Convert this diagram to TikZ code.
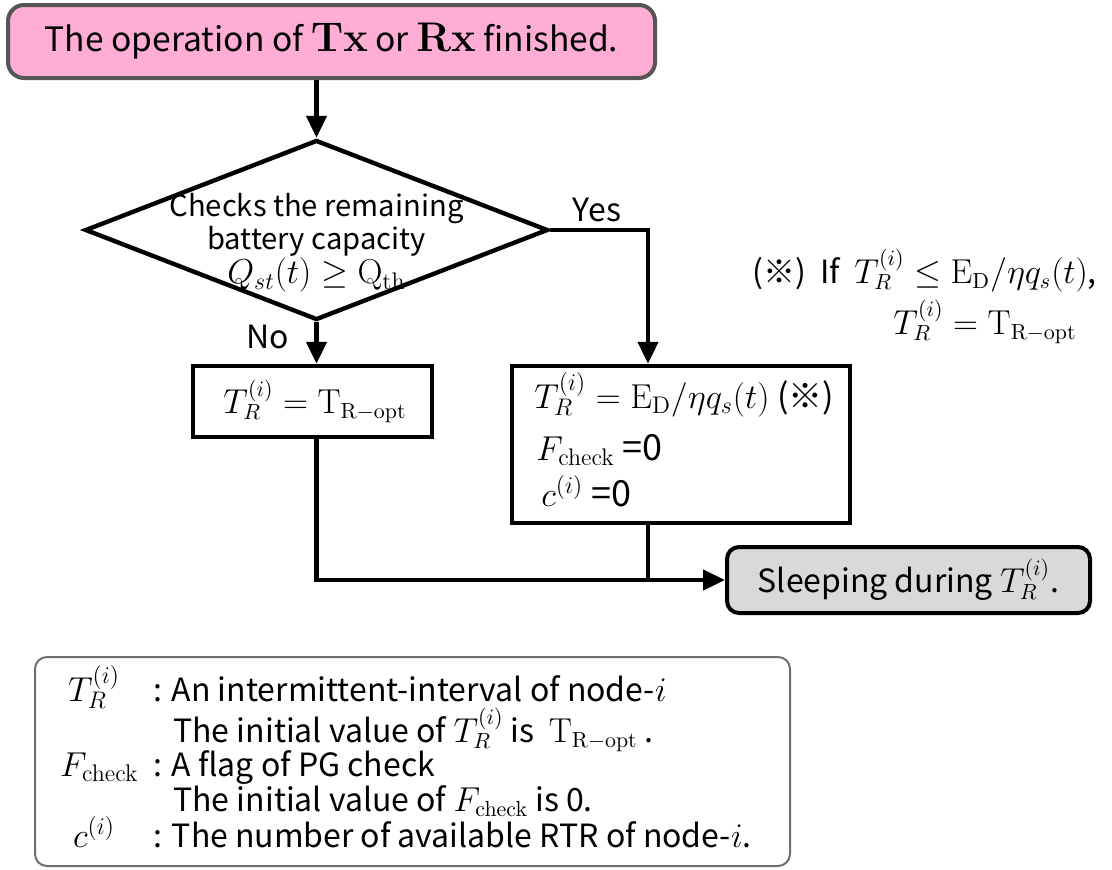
\documentclass[tikz,border=0pt]{standalone}
\usepackage[no-math]{fontspec}
\setmainfont{Noto Sans CJK JP}
\usetikzlibrary{arrows.meta,shapes.geometric}
\definecolor{startpink}{RGB}{255,173,213}
\definecolor{startedge}{RGB}{85,85,85}
\definecolor{sleepgray}{RGB}{217,217,217}
\definecolor{legendedge}{RGB}{110,110,110}
\newcommand{\diasize}{\fontsize{14.6}{15}\selectfont}
\newcommand{\headmath}{\fontsize{22.5}{22}\selectfont}
\newcommand{\nodepth}[1]{\raisebox{0pt}[\height][0pt]{#1}}
\tikzset{
  txt/.style={font=\fontsize{16}{19}\selectfont, inner sep=0pt},
  bigtxt/.style={font=\fontsize{18}{21}\selectfont, inner sep=0pt},
  procbox/.style={draw=black, line width=2.2pt, inner sep=0pt},
  startbox/.style={draw=startedge, fill=startpink, line width=2pt, rounded corners=8pt,
    font=\fontsize{16.8}{19}\selectfont},
  sleepbox/.style={draw=black, fill=sleepgray, line width=2pt, rounded corners=6pt,
    font=\fontsize{16}{19}\selectfont},
  flowline/.style={line width=2.2pt},
  flowarrow/.style={line width=2.2pt, -{Triangle[length=11pt,width=10pt]}},
}
\begin{document}
\begin{tikzpicture}[x=0.5pt,y=-0.5pt]
\useasboundingbox (0,0) rectangle (1112,869);

% start of the procedure
\node[startbox, minimum width=323.5pt, minimum height=36.5pt] (start) at (331.5,41.5)
  {The operation of {\headmath$\mathbf{Tx}$} or {\headmath$\mathbf{Rx}$} finished.};

% battery check
\node[diamond, draw=black, line width=2.2pt, minimum width=231.5pt, minimum height=90pt,
  inner sep=0pt] (dia) at (316.5,230) {};
\node[txt, align=center, font=\diasize] (diatext) at (316.5,243)
  {Checks the remaining\\battery capacity\\{\fontsize{16.7}{15}\selectfont$Q_{st}(t)\geq \mathrm{Q_{th}}$}};

% the two branches
\node[procbox, minimum width=119.5pt, minimum height=35.5pt] (boxA) at (312.5,401.5) {};
\node[txt] (boxAtext) at (315,401.5) {$T_R^{(i)}=\mathrm{T_{R-opt}}$};

\node[procbox, minimum width=169pt, minimum height=78.5pt] (boxB) at (681,444.5) {};
\node[txt, font=\fontsize{17}{19}\selectfont, anchor=base west] (bl1) at (534,408)
  {$T_R^{(i)}=\mathrm{E_D}/\eta q_s(t)$ (※)};
\node[bigtxt, anchor=base west] (bl2) at (536,460) {\nodepth{$F_{\mathrm{check}}$}\ =0};
\node[bigtxt, anchor=base west] (bl3) at (541,506) {$c^{(i)}$\ =0};

% sleeping state
\node[sleepbox, minimum width=181.5pt, minimum height=33pt] (sleep) at (908.5,580)
  {Sleeping during $T_R^{(i)}$.};

% note on the Yes branch
\node[txt, anchor=base west] (note1) at (752,283)
  {(※)\ \ If\ \ $T_R^{(i)}\leq \mathrm{E_D}/\eta q_s(t)$,};
\node[txt, anchor=base] (note2) at (985,334)
  {$T_R^{(i)}=\mathrm{T_{R-opt}}$};

% connectors
\draw[flowarrow] (start.south -| dia.north) -- (dia.north);
\coordinate (yesturn) at (648,230);
\draw[flowarrow] (dia.east) -- (yesturn) -- (yesturn |- boxB.north);
\node[txt, anchor=base] (yes) at (597,221) {Yes};
\draw[flowarrow] (dia.south) -- (dia.south |- boxA.north);
\node[txt, anchor=base] (no) at (268,348) {No};
\draw[flowarrow] (dia.south |- boxA.south) |- (sleep.west);
\draw[flowline] (yesturn |- boxB.south) -- (yesturn |- sleep.west);

% legend
\node[draw=legendedge, line width=1pt, rounded corners=6pt, minimum width=377.5pt,
  minimum height=104.5pt] (legend) at (412.5,761.5) {};
\node[bigtxt, anchor=base] (s1) at (94,701) {$T_R^{(i)}$};
\node[txt, anchor=base west] (d1) at (153,701) {: An intermittent-interval of node-$i$};
\node[txt, anchor=base west] (d1b) at (173,742)
  {The initial value of\ \nodepth{$T_R^{(i)}$} is\ \ $\mathrm{T_{R-opt}}$ .};
\node[txt, font=\fontsize{16.6}{19}\selectfont, anchor=base east] (s2) at (139,776) {$F_{\mathrm{check}}$};
\node[txt, anchor=base west] (d2) at (153,776) {: A flag of PG check};
\node[txt, anchor=base west] (d2b) at (173,811) {The initial value of $F_{\mathrm{check}}$\ is 0.};
\node[bigtxt, anchor=base] (s3) at (94,847) {$c^{(i)}$};
\node[txt, anchor=base west] (d3) at (153,847) {: The number of available RTR of node-$i$.};
\end{tikzpicture}
\end{document}
